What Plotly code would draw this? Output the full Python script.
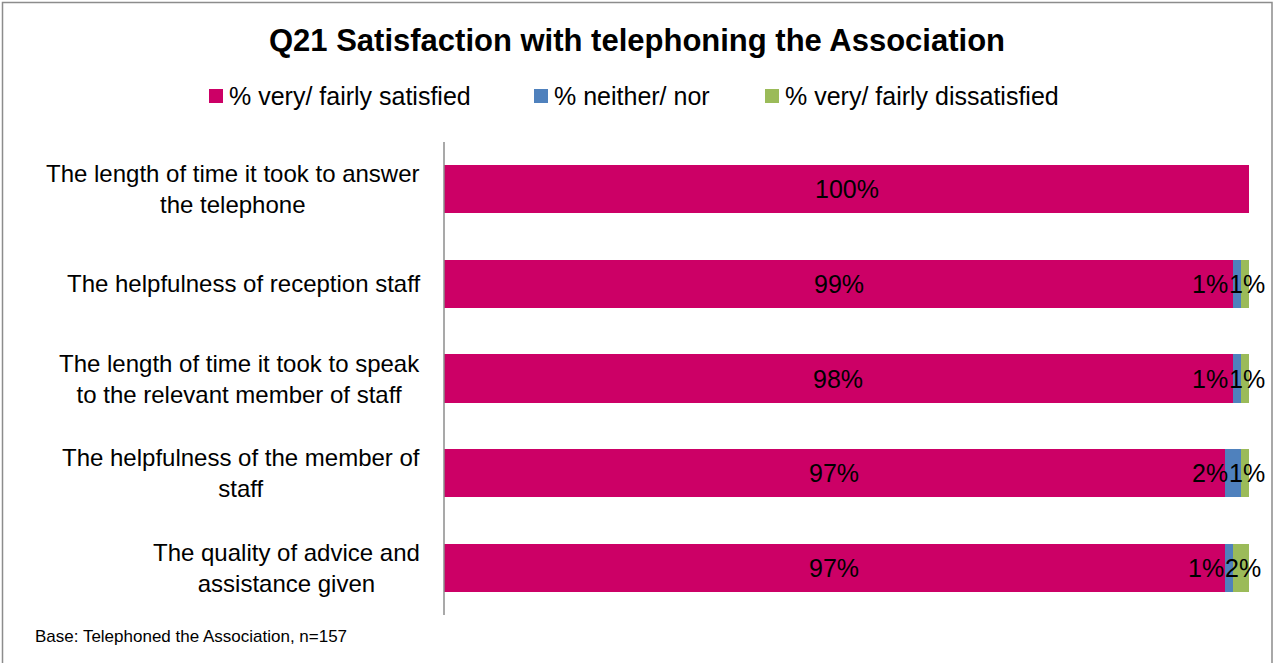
import plotly.graph_objects as go

# Survey results: share of respondents per answer group (rounded percentages)
categories = [
    "The length of time it took to answer<br>the telephone",
    "The helpfulness of reception staff",
    "The length of time it took to speak<br>to the relevant member of staff",
    "The helpfulness of the member of<br>staff",
    "The quality of advice and<br>assistance given",
]
satisfied = [100, 99, 98, 97, 97]
neither = [0, 1, 1, 2, 1]
dissatisfied = [0, 1, 1, 1, 2]

series_names = ["% very/ fairly satisfied", "% neither/ nor", "% very/ fairly dissatisfied"]
colors = ["#CC0066", "#4F81BD", "#9BBB59"]

title_text = "Q21 Satisfaction with telephoning the Association"
base_note = "Base: Telephoned the Association, n=157"

FONT = "Liberation Sans, Arial, sans-serif"

L, R, T, B = 444, 25, 142, 48
W, H = 1274, 663
pw, ph = W - L - R, H - T - B


def px_x(px):
    return (px - L) / pw


def px_y(py):
    return 1 - (py - T) / ph


fig = go.Figure()
for name, vals, col in zip(series_names, [satisfied, neither, dissatisfied], colors):
    fig.add_trace(go.Bar(
        y=list(range(len(categories))),
        x=vals,
        name=name,
        orientation="h",
        marker=dict(color=col, line=dict(width=0)),
        showlegend=False,
    ))

annotations = []
shapes = []

# category labels: centred lines, block right-aligned next to the axis
for i, cat in enumerate(categories):
    annotations.append(dict(
        x=0, xref="paper", xshift=-22, xanchor="right",
        y=i, yref="y", yanchor="middle",
        text=cat, showarrow=False, align="center",
        font=dict(family=FONT, size=24, color="#000000"),
    ))

# value labels (bars are normalised to 100%)
LBL = dict(family=FONT, size=25, color="#000000")
for i in range(len(categories)):
    total = satisfied[i] + neither[i] + dissatisfied[i]
    s = satisfied[i] * 100.0 / total
    n = neither[i] * 100.0 / total
    d = dissatisfied[i] * 100.0 / total
    annotations.append(dict(
        x=s / 2, xref="x", y=i, yref="y", text=f"{satisfied[i]}%",
        showarrow=False, xanchor="center", font=LBL,
    ))
    green_mid = s + n + d / 2
    if dissatisfied[i] > 0:
        annotations.append(dict(
            x=green_mid, xref="x", xshift=2, y=i, yref="y", text=f"{dissatisfied[i]}%",
            showarrow=False, xanchor="center", font=LBL,
        ))
    if neither[i] > 0:
        annotations.append(dict(
            x=green_mid, xref="x", xshift=-15, y=i, yref="y", text=f"{neither[i]}%",
            showarrow=False, xanchor="right", font=LBL,
        ))

# legend row: coloured square followed by the series name
legend_sq_left = [209, 534, 765]
for name, col, sx in zip(series_names, colors, legend_sq_left):
    shapes.append(dict(
        type="rect", xref="paper", yref="paper",
        x0=px_x(sx), x1=px_x(sx + 14), y0=px_y(89), y1=px_y(103),
        line=dict(width=0), fillcolor=col,
    ))
    annotations.append(dict(
        x=px_x(sx + 18), xref="paper", xanchor="left",
        y=px_y(96), yref="paper", yanchor="middle",
        text=name, showarrow=False,
        font=dict(family=FONT, size=25, color="#000000"),
    ))

annotations.append(dict(
    x=px_x(33), xref="paper", xanchor="left",
    y=px_y(636), yref="paper", yanchor="middle",
    text=base_note, showarrow=False,
    font=dict(family=FONT, size=17, color="#000000"),
))

# vertical category axis line
shapes.append(dict(type="line", xref="paper", yref="paper", x0=0, x1=0, y0=0, y1=1,
                   line=dict(color="#8C8C8C", width=1.5)))
# chart frame
shapes.append(dict(type="rect", xref="paper", yref="paper",
                   x0=px_x(2.5), x1=px_x(1272), y0=px_y(2.5), y1=px_y(700),
                   line=dict(color="#8C8C8C", width=1.5), fillcolor="rgba(0,0,0,0)"))

fig.update_layout(
    width=W, height=H,
    margin=dict(l=L, r=R, t=T, b=B),
    paper_bgcolor="#FFFFFF", plot_bgcolor="#FFFFFF",
    barmode="stack", barnorm="percent", bargap=0.49,
    title=dict(
        text=f"<b>{title_text}</b>", x=0.5, xref="container", xanchor="center",
        y=1 - 40 / H, yref="container", yanchor="middle",
        font=dict(family=FONT, size=31, color="#000000"),
    ),
    showlegend=False,
    xaxis=dict(range=[0, 100], visible=False, fixedrange=True),
    yaxis=dict(
        range=[len(categories) - 0.5, -0.5], showticklabels=False, ticks="",
        showgrid=False, zeroline=False, showline=False, fixedrange=True,
    ),
    annotations=annotations,
    shapes=shapes,
)

fig.write_html("out.html")
